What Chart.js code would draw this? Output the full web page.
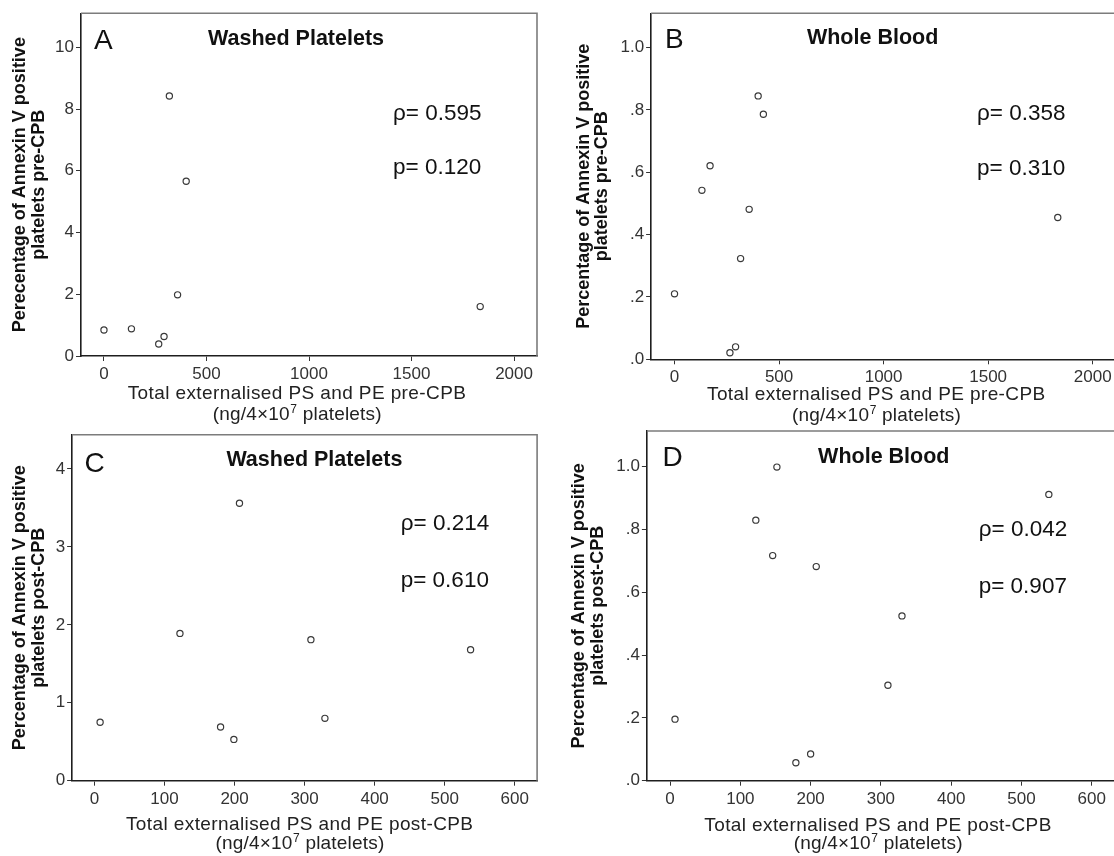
<!DOCTYPE html>
<html>
<head>
<meta charset="utf-8">
<script src="https://cdn.jsdelivr.net/npm/chart.js@4.4.1/dist/chart.umd.min.js"></script>
<style>
  html, body { margin: 0; padding: 0; background: #fff; }
  body { position: relative; width: 1114px; height: 856px; overflow: hidden; }
  canvas { position: absolute; }
</style>
</head>
<body>
<canvas id="panelA"></canvas>
<canvas id="panelB"></canvas>
<canvas id="panelC"></canvas>
<canvas id="panelD"></canvas>
<script>
// ---- data: total externalised PS+PE (x) vs % Annexin V positive platelets (y)
const preWashedX  = [0, 134, 267, 293, 319, 359, 401, 1835];
const preWashedY  = [0.84, 0.88, 0.39, 0.63, 8.42, 1.98, 5.66, 1.60];
const preWholeX   = [0, 131, 170, 265, 292, 316, 357, 400, 425, 1833];
const preWholeY   = [0.210, 0.542, 0.621, 0.021, 0.040, 0.323, 0.481, 0.845, 0.786, 0.455];
const postWashedX = [8, 122, 180, 199, 207, 309, 329, 537];
const postWashedY = [0.75, 1.89, 0.69, 0.53, 3.56, 1.81, 0.80, 1.68];
const postWholeX  = [7, 122, 146, 152, 179, 200, 208, 310, 330, 539];
const postWholeY  = [0.196, 0.830, 0.717, 0.999, 0.057, 0.085, 0.682, 0.304, 0.525, 0.912];

// ---- tick values and labels
const preXTicks      = [0, 500, 1000, 1500, 2000];
const preXLabels     = ['0', '500', '1000', '1500', '2000'];
const postXTicks     = [0, 100, 200, 300, 400, 500, 600];
const postXLabels    = ['0', '100', '200', '300', '400', '500', '600'];
const washedPreTicks = [0, 2, 4, 6, 8, 10];
const washedPreLabels= ['0', '2', '4', '6', '8', '10'];
const washedPostTicks= [0, 1, 2, 3, 4];
const washedPostLabels=['0', '1', '2', '3', '4'];
const wholeTicks     = [0, 0.2, 0.4, 0.6, 0.8, 1.0];
const wholeLabels    = ['.0', '.2', '.4', '.6', '.8', '1.0'];

// ---- text
const panelLetters = ['A', 'B', 'C', 'D'];
const panelTitles  = ['Washed Platelets', 'Whole Blood', 'Washed Platelets', 'Whole Blood'];
const rhoValues    = ['0.595', '0.358', '0.214', '0.042'];
const pValues      = ['0.120', '0.310', '0.610', '0.907'];
const yTitles = [
  ['Perecentage of Annexin V positive', 'platelets pre-CPB'],
  ['Percentage of Annexin V positive', 'platelets pre-CPB'],
  ['Percentage of Annexin V positive', 'platelets post-CPB'],
  ['Percentage of Annexin V positive', 'platelets post-CPB']
];
const xTitles = [
  'Total externalised PS and PE pre-CPB',
  'Total externalised PS and PE pre-CPB',
  'Total externalised PS and PE post-CPB',
  'Total externalised PS and PE post-CPB'
];

const FAMILY = "'Liberation Sans', Arial, Helvetica, sans-serif";

// ---- panel layout (page pixels)
const panels = [
  { id: 'panelA', x: 0,   y: 0,   w: 557, h: 430, area: { l: 81,    t: 13.3, r: 537,    b: 356 },
    xs: preWashedX, ys: preWashedY, xTicks: preXTicks, xLabels: preXLabels, xMin: -112, xMax: 2112,
    yTicks: washedPreTicks, yLabels: washedPreLabels, yMax: 11.1,
    letter: { x: 94, y: 48.5 }, title: { x: 296, y: 44.5 }, stats: { x: 393, y1: 120, y2: 174 },
    yt: { x1: 25, x2: 43.5 }, xt: { x: 297, y1: 398.5, y2: 419.5 } },
  { id: 'panelB', x: 557, y: 0,   w: 590, h: 430, area: { l: 651.1, t: 13.3, r: 1116.1, b: 359.3 },
    xs: preWholeX, ys: preWholeY, xTicks: preXTicks, xLabels: preXLabels, xMin: -112, xMax: 2112,
    yTicks: wholeTicks, yLabels: wholeLabels, yMax: 1.11,
    letter: { x: 665, y: 48.3 }, title: { x: 872.6, y: 44.3 }, stats: { x: 977, y1: 119.5, y2: 175 },
    yt: { x1: 589, x2: 607 }, xt: { x: 876.3, y1: 400, y2: 421 } },
  { id: 'panelC', x: 0,   y: 410, w: 557, h: 446, area: { l: 72.1,  t: 434.7, r: 537.1,  b: 780.7 },
    xs: postWashedX, ys: postWashedY, xTicks: postXTicks, xLabels: postXLabels, xMin: -32, xMax: 632,
    yTicks: washedPostTicks, yLabels: washedPostLabels, yMax: 4.44,
    letter: { x: 84.5, y: 471.7 }, title: { x: 314.4, y: 465.7 }, stats: { x: 400.7, y1: 530, y2: 586.7 },
    yt: { x1: 25, x2: 43.5 }, xt: { x: 299.7, y1: 830, y2: 849 } },
  { id: 'panelD', x: 557, y: 410, w: 590, h: 446, area: { l: 646.9, t: 431,   r: 1117,   b: 780.7 },
    xs: postWholeX, ys: postWholeY, xTicks: postXTicks, xLabels: postXLabels, xMin: -33, xMax: 636,
    yTicks: wholeTicks, yLabels: wholeLabels, yMax: 1.114,
    letter: { x: 662.5, y: 465.7 }, title: { x: 883.8, y: 463.3 }, stats: { x: 978.7, y1: 536, y2: 592.7 },
    yt: { x1: 584, x2: 602.5 }, xt: { x: 878, y1: 830.7, y2: 849 } }
];

// draws the frame, panel letter, title, statistics and axis titles
const panelText = {
  id: 'panelText',
  afterDraw(chart, args, opts) {
    const p = opts.panel, i = opts.index;
    const ctx = chart.ctx, ca = chart.chartArea;
    const ox = p.x, oy = p.y;
    ctx.save();

    // upper and right frame lines
    ctx.strokeStyle = '#7c7c7c';
    ctx.lineWidth = 1.6;
    ctx.beginPath();
    ctx.moveTo(ca.left, ca.top);
    ctx.lineTo(ca.right, ca.top);
    ctx.lineTo(ca.right, ca.bottom);
    ctx.stroke();

    ctx.fillStyle = '#111';
    ctx.textBaseline = 'alphabetic';

    // panel letter
    ctx.font = '28px ' + FAMILY;
    ctx.textAlign = 'left';
    ctx.fillText(panelLetters[i], p.letter.x - ox, p.letter.y - oy);

    // panel title
    ctx.font = 'bold 21.5px ' + FAMILY;
    ctx.textAlign = 'center';
    ctx.fillText(panelTitles[i], p.title.x - ox, p.title.y - oy);

    // correlation statistics
    ctx.font = '22.5px ' + FAMILY;
    ctx.textAlign = 'left';
    ctx.fillText('\u03C1= ' + rhoValues[i], p.stats.x - ox, p.stats.y1 - oy);
    ctx.fillText('p= ' + pValues[i], p.stats.x - ox, p.stats.y2 - oy);

    // y-axis title (two rotated lines, centred on the plot area)
    const cy = (ca.top + ca.bottom) / 2;
    ctx.font = 'bold 18px ' + FAMILY;
    ctx.textAlign = 'center';
    [p.yt.x1, p.yt.x2].forEach((bx, k) => {
      ctx.save();
      ctx.translate(bx - ox, cy);
      ctx.rotate(-Math.PI / 2);
      ctx.fillText(yTitles[i][k], 0, 0);
      ctx.restore();
    });

    // x-axis title, second line carries a superscript exponent
    ctx.fillStyle = '#222';
    ctx.letterSpacing = '0.4px';
    ctx.font = '19px ' + FAMILY;
    ctx.textAlign = 'center';
    ctx.fillText(xTitles[i], p.xt.x - ox, p.xt.y1 - oy);

    ctx.letterSpacing = '0.2px';
    const partA = '(ng/4\u00D710', partSup = '7', partB = ' platelets)';
    ctx.font = '19px ' + FAMILY;
    const wA = ctx.measureText(partA).width, wB = ctx.measureText(partB).width;
    ctx.font = '12px ' + FAMILY;
    const wS = ctx.measureText(partSup).width;
    let sx = p.xt.x - ox - (wA + wS + wB) / 2;
    const by = p.xt.y2 - oy;
    ctx.textAlign = 'left';
    ctx.font = '19px ' + FAMILY;
    ctx.fillText(partA, sx, by);
    sx += wA;
    ctx.font = '12px ' + FAMILY;
    ctx.fillText(partSup, sx + 0.5, by - 7);
    sx += wS + 0.5;
    ctx.font = '19px ' + FAMILY;
    ctx.fillText(partB, sx, by);

    ctx.restore();
  }
};

panels.forEach((p, i) => {
  const cv = document.getElementById(p.id);
  cv.width = p.w; cv.height = p.h;
  cv.style.left = p.x + 'px'; cv.style.top = p.y + 'px';
  cv.style.width = p.w + 'px'; cv.style.height = p.h + 'px';

  const leftW = p.area.l - p.x;               // width reserved for the y axis
  const topPad = p.area.t - p.y;
  const rightPad = p.x + p.w - p.area.r;
  const xAxisH = 60;
  const bottomPad = p.y + p.h - p.area.b - xAxisH;

  const pts = p.xs.map((v, k) => ({ x: v, y: p.ys[k] }));

  new Chart(cv, {
    type: 'scatter',
    data: {
      datasets: [{
        data: pts,
        pointStyle: 'circle',
        pointRadius: 3.1,
        pointBorderWidth: 1.2,
        pointBorderColor: '#3a3a3a',
        pointBackgroundColor: 'rgba(255,255,255,0)',
        showLine: false
      }]
    },
    options: {
      responsive: false,
      maintainAspectRatio: false,
      animation: false,
      events: [],
      devicePixelRatio: 1,
      layout: { padding: { left: 0, top: topPad, right: rightPad, bottom: bottomPad } },
      plugins: {
        legend: { display: false },
        tooltip: { enabled: false },
        panelText: { panel: p, index: i }
      },
      scales: {
        x: {
          type: 'linear',
          min: p.xMin, max: p.xMax,
          afterBuildTicks: s => { s.ticks = p.xTicks.map(v => ({ value: v })); },
          afterFit: s => { s.height = xAxisH; },
          ticks: {
            autoSkip: false, maxRotation: 0, padding: 3,
            color: '#333',
            font: { family: FAMILY, size: 17 },
            callback: (v, k) => p.xLabels[k]
          },
          grid: { drawOnChartArea: false, drawTicks: true, tickLength: 5, color: '#333', lineWidth: 1 },
          border: { display: true, color: '#1e1e1e', width: 1.6 }
        },
        y: {
          type: 'linear',
          min: 0, max: p.yMax,
          afterBuildTicks: s => { s.ticks = p.yTicks.map(v => ({ value: v })); },
          afterFit: s => { s.width = leftW; },
          ticks: {
            autoSkip: false, padding: 2,
            color: '#333',
            font: { family: FAMILY, size: 17 },
            callback: (v, k) => p.yLabels[k]
          },
          grid: { drawOnChartArea: false, drawTicks: true, tickLength: 5, color: '#333', lineWidth: 1 },
          border: { display: true, color: '#1e1e1e', width: 1.6 }
        }
      }
    },
    plugins: [panelText]
  });
});
</script>
</body>
</html>
